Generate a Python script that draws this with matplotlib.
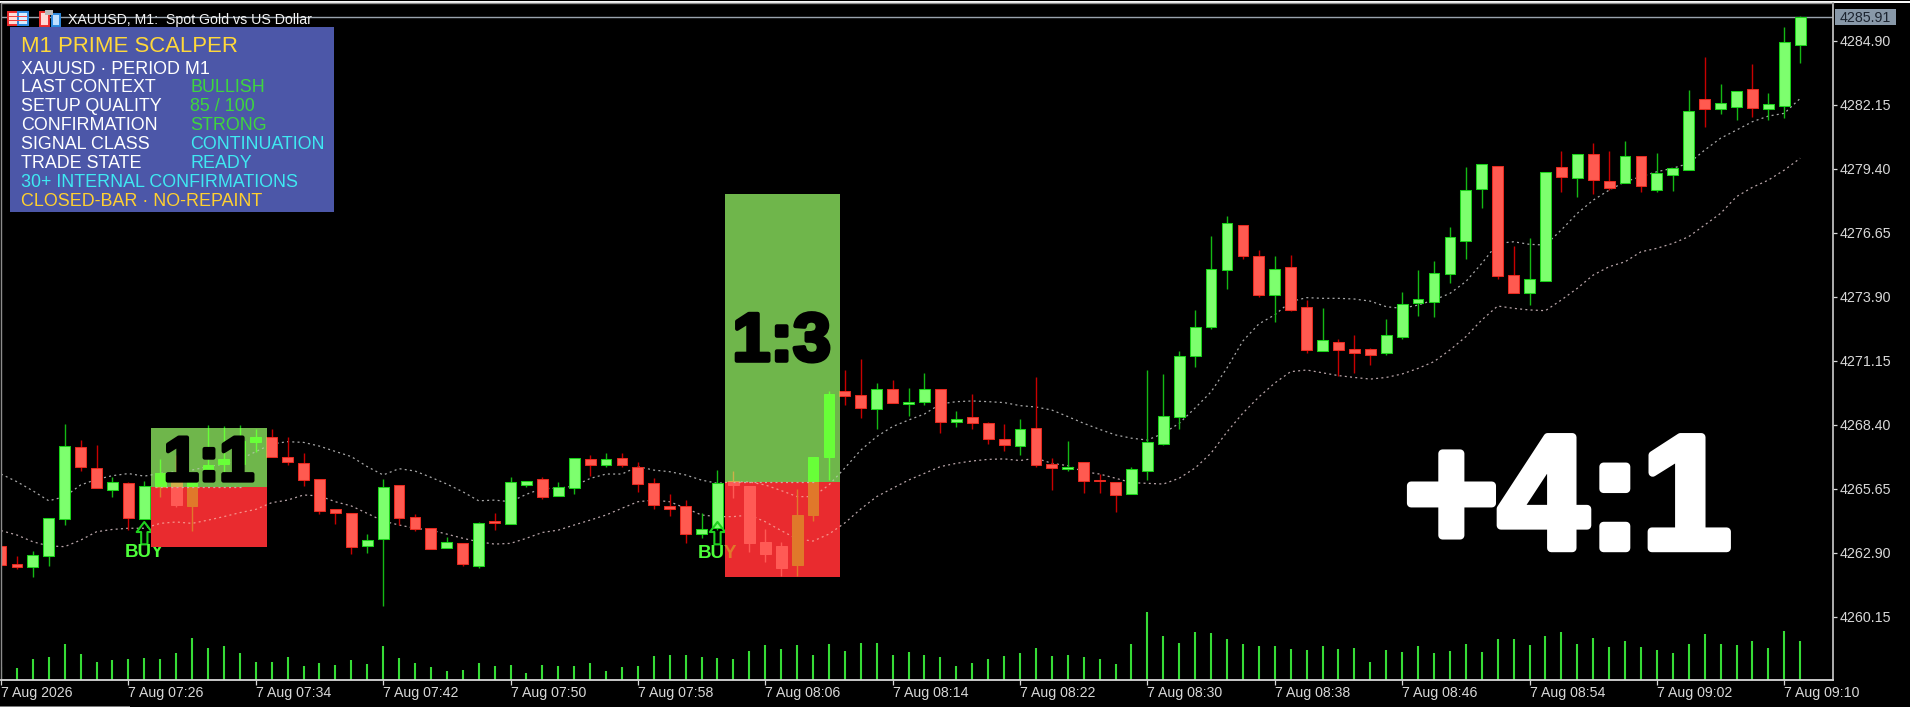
import matplotlib
matplotlib.use("Agg")
import matplotlib.pyplot as plt
import matplotlib.patheffects as pe
from matplotlib.lines import Line2D
from matplotlib.patches import Rectangle
from matplotlib.path import Path

plt.rcParams['font.family'] = ['Liberation Sans', 'DejaVu Sans']

W, H = 1910, 707

# candles, one per minute from 07:18
opens = [4263.19,4262.40,4262.28,4262.76,4264.33,4267.46,4266.55,4265.58,4265.91,4264.33,
         4265.71,4266.31,4264.91,4266.31,4266.70,4266.70,4267.64,4267.87,4267.03,4266.77,
         4266.05,4264.79,4264.62,4263.19,4263.49,4265.82,4264.45,4263.97,4263.10,4263.30,
         4262.31,4264.25,4264.13,4265.79,4266.08,4265.32,4265.66,4266.94,4266.65,4266.97,
         4266.60,4265.88,4264.92,4264.89,4263.70,4263.95,4266.00,4265.78,4263.35,4263.19,
         4262.37,4264.52,4267.00,4269.85,4269.68,4269.09,4269.94,4269.30,4269.39,4269.95,
         4268.53,4268.75,4268.49,4267.80,4267.47,4268.27,4266.73,4266.48,4266.81,4266.02,
         4265.95,4265.41,4266.40,4267.59,4268.75,4271.36,4272.61,4275.04,4277.00,4275.63,
         4273.97,4275.16,4273.46,4271.58,4271.95,4271.65,4271.65,4271.49,4272.18,4273.64,
         4273.69,4274.87,4276.29,4278.51,4279.50,4274.82,4274.06,4274.57,4279.49,4278.99,
         4280.02,4278.89,4278.77,4279.96,4278.47,4279.12,4279.33,4282.40,4281.98,4282.07,
         4282.83,4281.98,4282.11,4284.73]
highs = [4263.19,4262.76,4262.96,4264.38,4268.44,4267.73,4267.54,4266.14,4265.94,4265.99,
         4266.91,4267.10,4266.19,4268.37,4268.34,4268.37,4268.20,4268.21,4267.86,4267.20,
         4266.05,4264.79,4264.62,4263.69,4266.05,4265.82,4264.55,4263.97,4263.56,4263.30,
         4264.23,4264.59,4266.14,4265.99,4266.17,4265.95,4266.98,4267.10,4267.20,4267.20,
         4266.78,4266.10,4265.42,4265.15,4264.62,4266.44,4266.43,4265.78,4263.90,4263.37,
         4265.62,4267.00,4269.86,4270.77,4271.22,4270.19,4270.32,4269.98,4270.62,4269.95,
         4268.99,4269.72,4268.52,4268.43,4268.65,4270.45,4266.98,4267.71,4266.81,4266.28,
         4265.95,4266.60,4270.75,4270.58,4271.57,4273.32,4276.50,4277.36,4277.00,4275.90,
         4275.64,4275.69,4273.76,4273.41,4272.07,4272.25,4271.71,4272.94,4274.10,4275.05,
         4275.43,4276.91,4279.46,4279.59,4279.50,4276.08,4276.42,4279.24,4280.18,4280.02,
         4280.52,4280.18,4280.60,4279.96,4280.06,4279.42,4282.78,4284.20,4283.04,4282.75,
         4283.90,4282.65,4285.49,4285.96]
lows = [4262.37,4262.20,4261.85,4262.33,4264.09,4266.40,4265.66,4265.28,4263.87,4264.33,
        4265.28,4264.88,4263.85,4266.02,4266.09,4266.70,4267.24,4267.00,4266.65,4265.77,
        4264.55,4264.13,4262.84,4262.90,4260.61,4264.09,4263.83,4263.06,4263.10,4262.33,
        4262.24,4263.87,4264.13,4265.71,4265.19,4265.32,4265.41,4266.18,4266.57,4266.57,
        4265.49,4264.76,4264.48,4263.30,4263.52,4263.88,4265.27,4262.94,4262.51,4261.90,
        4261.90,4264.26,4266.02,4269.25,4268.70,4268.23,4269.32,4268.79,4269.25,4268.06,
        4268.32,4268.23,4267.59,4267.29,4267.11,4266.57,4265.58,4266.40,4265.45,4265.45,
        4264.65,4265.41,4266.01,4267.51,4268.20,4270.89,4272.52,4274.23,4275.50,4273.88,
        4272.81,4273.29,4271.49,4271.58,4270.49,4270.63,4270.98,4271.41,4272.10,4273.08,
        4273.04,4274.50,4275.52,4277.70,4274.67,4274.06,4273.56,4274.57,4278.38,4278.20,
        4278.30,4278.48,4278.77,4278.38,4278.38,4278.43,4279.33,4281.21,4281.77,4281.51,
        4281.61,4281.48,4281.59,4283.96]
closes = [4262.37,4262.27,4262.79,4264.38,4267.50,4266.57,4265.66,4265.95,4264.39,4265.78,
          4266.31,4264.95,4265.95,4266.65,4266.94,4267.71,4267.87,4267.00,4266.78,4266.01,
          4264.68,4264.60,4263.14,4263.43,4265.71,4264.39,4263.92,4263.06,4263.34,4262.41,
          4264.16,4264.16,4265.92,4265.99,4265.28,4265.74,4266.98,4266.68,4266.94,4266.68,
          4265.84,4264.95,4264.78,4263.70,4263.90,4265.91,4265.81,4263.30,4262.86,4262.26,
          4264.51,4267.00,4269.73,4269.65,4269.10,4269.95,4269.32,4269.38,4269.95,4268.50,
          4268.65,4268.46,4267.77,4267.51,4268.23,4266.65,4266.53,4266.60,4265.98,4265.97,
          4265.38,4266.51,4267.67,4268.79,4271.35,4272.59,4275.07,4277.05,4275.64,4273.97,
          4275.11,4273.32,4271.61,4272.02,4271.61,4271.49,4271.41,4272.24,4273.59,4273.79,
          4274.90,4276.45,4278.47,4279.59,4274.79,4274.06,4274.65,4279.24,4279.03,4280.02,
          4278.90,4278.56,4279.96,4278.64,4279.20,4279.42,4281.89,4281.95,4282.24,4282.75,
          4281.99,4282.18,4284.85,4285.91]

volumes = [40,36,63,69,108,78,54,60,63,66,63,81,126,96,102,81,54,54,69,42,
           51,45,60,48,102,66,51,39,27,30,51,42,45,21,45,42,42,51,27,39,
           42,72,75,75,69,66,63,87,105,93,105,75,108,87,111,111,75,84,75,69,
           42,51,63,72,81,96,72,75,69,63,48,108,203,132,111,144,141,123,108,102,
           102,93,90,102,93,96,54,90,84,102,81,87,108,84,123,123,105,132,144,108,
           126,99,117,99,90,81,108,138,108,105,117,96,147,117]

# the two dotted envelope lines
upper_band = [4266.28,4265.95,4265.56,4265.13,4265.31,4265.81,4266.05,4266.21,4266.30,4266.19,
              4266.31,4266.38,4266.45,4266.60,4266.71,4266.91,4267.24,4267.57,4267.67,4267.64,
              4267.48,4267.25,4267.03,4266.60,4266.24,4266.51,4266.41,4266.14,4265.85,4265.52,
              4265.13,4265.16,4265.09,4265.41,4265.66,4265.66,4265.77,4266.09,4266.28,4266.28,
              4266.60,4266.45,4266.38,4266.24,4266.02,4265.88,4265.95,4265.94,4265.81,4265.57,
              4265.31,4265.31,4265.81,4266.54,4267.31,4267.89,4268.32,4268.60,4268.86,4269.29,
              4269.39,4269.42,4269.39,4269.35,4269.22,4269.16,4269.03,4268.75,4268.46,4268.20,
              4267.96,4267.82,4267.74,4268.03,4268.46,4269.12,4269.81,4270.84,4272.00,4272.73,
              4273.12,4273.69,4273.86,4273.83,4273.83,4273.80,4273.71,4273.47,4273.40,4273.54,
              4273.76,4274.04,4274.55,4275.33,4276.19,4276.26,4276.15,4276.12,4276.77,4277.48,
              4278.05,4278.48,4278.84,4279.06,4279.27,4279.42,4279.63,4280.20,4280.71,4281.06,
              4281.42,4281.66,4281.78,4282.42]
lower_band = [4263.85,4263.66,4263.37,4263.19,4263.16,4263.44,4263.80,4263.90,4263.95,4263.95,
              4264.16,4264.22,4264.16,4264.30,4264.45,4264.62,4264.76,4265.05,4265.16,4265.38,
              4265.34,4265.09,4264.91,4264.59,4264.26,4264.09,4263.95,4263.87,4263.70,4263.52,
              4263.37,4263.27,4263.30,4263.52,4263.77,4263.87,4264.09,4264.30,4264.52,4264.81,
              4265.09,4265.16,4265.09,4264.81,4264.52,4264.45,4264.45,4264.52,4264.23,4263.85,
              4263.49,4263.40,4263.70,4264.18,4264.78,4265.31,4265.67,4266.02,4266.31,4266.60,
              4266.74,4266.84,4266.91,4266.93,4266.86,4266.96,4266.74,4266.64,4266.38,4266.28,
              4266.10,4265.91,4265.88,4265.85,4266.10,4266.54,4267.18,4268.09,4268.90,4269.59,
              4270.19,4270.68,4270.75,4270.63,4270.51,4270.43,4270.36,4270.43,4270.58,4270.82,
              4271.11,4271.61,4272.18,4272.90,4273.50,4273.40,4273.33,4273.30,4273.76,4274.26,
              4274.83,4275.19,4275.40,4275.83,4275.98,4276.19,4276.48,4276.98,4277.48,4278.20,
              4278.60,4278.91,4279.34,4279.85]

price_ticks = [4284.90,4282.15,4279.40,4276.65,4273.90,4271.15,4268.40,4265.65,4262.90,4260.15]
time_labels = ["7 Aug 2026","7 Aug 07:26","7 Aug 07:34","7 Aug 07:42","7 Aug 07:50",
               "7 Aug 07:58","7 Aug 08:06","7 Aug 08:14","7 Aug 08:22","7 Aug 08:30",
               "7 Aug 08:38","7 Aug 08:46","7 Aug 08:54","7 Aug 09:02","7 Aug 09:10"]
last_price = 4285.91

buy_bars = [9, 45]
buy_arrow_price = [4263.74, 4263.74]
buy_text_price = [4262.90, 4262.85]

# risk/reward boxes
box_left = [9.45, 45.5]
box_right = [16.73, 52.7]
box_top = [4268.26, 4278.33]
box_entry = [4265.71, 4265.92]
box_bottom = [4263.16, 4261.84]
box_label = ["1:1", "1:3"]
box_label_x = [13.06, 49.03]
box_label_price = [4266.0, 4271.15]
box_label_size = [45, 49]
entry_from = [9.7, 46.0]
entry_to = [15.1, 51.2]

result_label = "+4:1"
result_x = 98.4
result_price = 4263.1

panel_rows = [("LAST CONTEXT", "BULLISH", "#3ed63e"),
              ("SETUP QUALITY", "85 / 100", "#3ed63e"),
              ("CONFIRMATION", "STRONG", "#3ed63e"),
              ("SIGNAL CLASS", "CONTINUATION", "#3fe9f2"),
              ("TRADE STATE", "READY", "#3fe9f2")]

# how a colour looks once it lies inside a box (green part, red part)
UP_TINT = ("#68ff38", "#e0782a")
DOWN_TINT = ("#cdb04a", "#ff5a55")


def fx(px):
    return px / W


def fy(py):
    return 1 - py / H


fig = plt.figure(figsize=(W / 100, H / 100), dpi=100, facecolor="black")
ax = fig.add_axes([fx(1), fy(680), fx(1832), 677 / H], facecolor="none")
ax_vol = fig.add_axes(ax.get_position(), sharex=ax, facecolor="black")
ax.set_zorder(2)
ax_vol.set_zorder(1)

x = list(range(len(opens)))
ax.set_xlim(0.02, 115.06)
ax.set_ylim(4257.43, 4286.52)

# volume bars
ax_vol.vlines(x, 0, volumes, color="#36dc36", lw=1.5)
ax_vol.set_ylim(0, 2031)
ax_vol.axis("off")


def draw_candle(i, body, wick, edge, z, clip=None):
    arts = [ax.vlines(i, lows[i], highs[i], color=wick, lw=1.0, zorder=z)]
    arts.extend(ax.bar(i, abs(closes[i] - opens[i]), bottom=min(opens[i], closes[i]), width=0.68,
                       color=body, edgecolor=edge, linewidth=0.75, zorder=z + 0.1))
    if clip is not None:
        for a in arts:
            a.set_clip_path(clip)


ax.plot(x, upper_band, color="#a8a8a8", lw=0.9, ls=(0, (1.6, 2.6)), zorder=1.5)
ax.plot(x, lower_band, color="#b8a4a8", lw=0.9, ls=(0, (1.6, 2.6)), zorder=1.5)

for i in x:
    up = closes[i] >= opens[i]
    draw_candle(i, "#7dff6e" if up else "#ff5a50", "#14b814" if up else "#c80000",
                "#19d219" if up else "#e82a20", 2)

# BUY arrows
arrow = Path([(-0.28, -1), (0.28, -1), (0.28, 0.1), (0.68, 0.1), (0, 1), (-0.68, 0.1), (-0.28, 0.1), (-0.28, -1)],
             closed=True)
ax.scatter(buy_bars, buy_arrow_price, marker=arrow, s=260, facecolors="none", edgecolors="#1fd11f",
           linewidths=1.5, zorder=3.5)
for b, p in zip(buy_bars, buy_text_price):
    ax.text(b, p, "BUY", color="#4dff3a", fontsize=13.5, fontweight="bold", ha="center", va="center",
            zorder=3.5)

# boxes, then every candle inside them again in its tinted colour
for i in range(2):
    w = box_right[i] - box_left[i]
    for part, (bottom, height, col) in enumerate([(box_entry[i], box_top[i] - box_entry[i], "#6fb64b"),
                                                  (box_bottom[i], box_entry[i] - box_bottom[i], "#e92b2f")]):
        zone = Rectangle((box_left[i], bottom), w, height, fc=col, ec="none", zorder=4)
        ax.add_patch(zone)
        band_col = "#a9c79a" if part == 0 else "#f5928a"
        for band in (upper_band, lower_band):
            line, = ax.plot(x, band, color=band_col, lw=0.9, ls=(0, (1.6, 2.6)), zorder=4.1)
            line.set_clip_path(zone)
        for b in x:
            if box_left[i] - 0.5 < b < box_right[i] + 0.5:
                up = closes[b] >= opens[b]
                tint = (UP_TINT if up else DOWN_TINT)[part]
                draw_candle(b, tint, tint, tint, 4.2, clip=zone)
        if part == 1 and i == 1:
            y_part = ax.text(buy_bars[i], buy_text_price[i], "BUY", color=UP_TINT[1], fontsize=13.5,
                             fontweight="bold", ha="center", va="center", zorder=4.5, clip_on=True)
            y_part.set_clip_path(zone)
    ax.plot([entry_from[i], entry_to[i]], [box_entry[i], box_entry[i]], color="#d3a8a0",
            lw=0.9, ls=(0, (1.6, 2.6)), zorder=4.6)
    ax.text(box_label_x[i], box_label_price[i], box_label[i], color="black", fontsize=box_label_size[i],
            fontweight="bold", ha="center", va="baseline", zorder=5,
            path_effects=[pe.withStroke(linewidth=3, foreground="black")])

ax.text(result_x, result_price, result_label, color="white", fontsize=116,
        fontweight="bold", ha="center", va="baseline", zorder=5,
        path_effects=[pe.withStroke(linewidth=6, foreground="white")])

# last price line
ax.axhline(last_price, color="#9aa4ae", lw=1.0, zorder=1.2)

# axes
for s in ["left", "top"]:
    ax.spines[s].set_color("#8c8c8c")
    ax.spines[s].set_linewidth(1)
ax.spines["right"].set_color("#bdbdbd")
ax.spines["right"].set_linewidth(1.3)
ax.spines["bottom"].set_color("#d8d8d8")
ax.spines["bottom"].set_linewidth(1.3)
ax.yaxis.tick_right()
ax.set_yticks(price_ticks)
ax.set_yticklabels([f"{p:.2f}" for p in price_ticks])
ax.set_xticks(x[::8])
ax.set_xticklabels(time_labels, ha="left")
ax.tick_params(axis="y", colors="#d8d8d8", labelsize=10.3, length=3, width=0.9, pad=1.5)
ax.tick_params(axis="x", colors="#d8d8d8", labelsize=10.2, length=3.5, width=0.9, pad=1)

# header strip, icons and symbol title
fig.add_artist(Line2D([0, 1], [fy(1.5), fy(1.5)], color="white", lw=1.4))
fig.add_artist(Rectangle((0, fy(707)), fx(130), 1.5 / H, fc="#7a7a7a", ec="none"))


def px_rect(x0, y0, w, h, fc, ec="none", lw=1.0, z=6):
    fig.add_artist(Rectangle((fx(x0), fy(y0 + h)), w / W, h / H, fc=fc, ec=ec, lw=lw, zorder=z))


px_rect(8, 12, 10, 13, "#ffdcd8", "#ee2d2d", 1.4)
px_rect(18, 12, 10, 13, "#d8ecff", "#2d8ae0", 1.4)
for row_y in [16, 20]:
    px_rect(9, row_y, 18, 1.4, "#ee4040")
px_rect(40, 12, 9, 14, "#ffd8d4", "#ee2d2d", 1.4)
px_rect(52, 14, 8, 12, "#bfe0ff", "#2d8ae0", 1.4)
px_rect(45, 10, 8, 5, "#b8b8b8")
fig.text(fx(68), fy(20), "XAUUSD, M1:  Spot Gold vs US Dollar", color="#f4f4f4", fontsize=10.2,
         va="center", zorder=7)

# price flag on the right
px_rect(1835, 9, 61, 16, "#8898a8")
fig.text(fx(1865.5), fy(17.5), f"{last_price:.2f}", color="#1c2430", fontsize=10.3, ha="center",
         va="center", zorder=7)

# info panel
px_rect(10, 27, 324, 185, "#4c57a8")
fig.text(fx(21), fy(46.8), "M1 PRIME SCALPER", color="#ffd83a", fontsize=15.9, va="center", zorder=7)
fig.text(fx(21), fy(69), "XAUUSD · PERIOD M1", color="white", fontsize=12.9, va="center", zorder=7)
for k, (name, value, col) in enumerate(panel_rows):
    row_y = 88 + k * 18.95
    fig.text(fx(21), fy(row_y), name, color="white", fontsize=12.9, va="center", zorder=7)
    fig.text(fx(190), fy(row_y), value, color=col, fontsize=12.9, va="center", zorder=7)
fig.text(fx(21), fy(182.7), "30+ INTERNAL CONFIRMATIONS", color="#3fe9f2", fontsize=12.9, va="center", zorder=7)
fig.text(fx(21), fy(201.5), "CLOSED-BAR · NO-REPAINT", color="#ffd030", fontsize=12.9, va="center", zorder=7)

plt.savefig("out.png", facecolor="black")
